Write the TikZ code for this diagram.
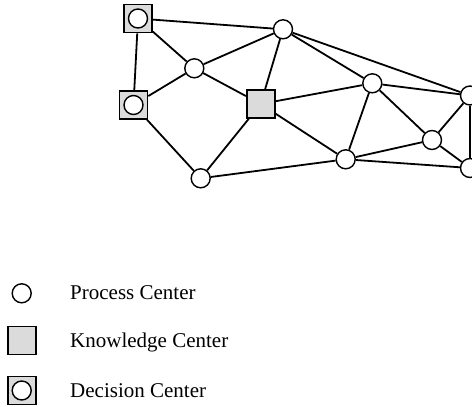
\documentclass[tikz,border=0pt]{standalone}
\usepackage{fontspec}
\setmainfont{Liberation Serif}
\begin{document}
\begin{tikzpicture}[x=1pt,y=-1pt,
  process/.style={circle,draw,line width=1.4pt,fill=white,minimum size=19pt,inner sep=0pt},
  knowledge/.style={rectangle,draw,line width=1.6pt,fill=kgray,minimum size=28pt,inner sep=0pt},
  decision/.style={knowledge,path picture={\draw[line width=1.4pt,fill=white]
      (path picture bounding box.center) circle (9.5pt);}},
  link/.style={line width=1.8pt},
  legendtext/.style={anchor=base west,inner sep=0pt,font=\fontsize{21}{25}\selectfont}]
\definecolor{kgray}{gray}{0.86}
\useasboundingbox (0,0) rectangle (472,407);

% network nodes
\node[decision]  (d1) at (138,18.5) {};
\node[decision]  (d2) at (133.5,105) {};
\node[process]   (p1) at (194.3,68.3) {};
\node[process]   (p2) at (283,29.3) {};
\node[knowledge] (k)  at (260.7,104) {};
\node[process]   (p3) at (200.7,178.3) {};
\node[process]   (p4) at (372.3,83.3) {};
\node[process]   (p5) at (345.7,159.3) {};
\node[process]   (p6) at (432,140) {};
\node[process]   (p7) at (470,95.5) {};
\node[process]   (p8) at (470,168) {};

% links between centres
\foreach \a/\b in {d1/p2,d1/p1,d1/d2,d2/p1,d2/p3,p1/p2,p1/k,p2/k,p2/p4,p2/p7,
                   k/p4,k/p5,k/p3,p3/p5,p4/p5,p4/p7,p4/p6,p5/p6,p5/p8,p6/p7,p6/p8,p7/p8}
  \draw[link] (\a) -- (\b);

% legend
\node[process]   (lp) at (21.7,293.3) {};
\node[knowledge] (lk) at (21.7,340.5) {};
\node[decision]  (ld) at (21.7,390.5) {};
\node[legendtext] (tp) at (70,299.3) {Process Center};
\node[legendtext] (tk) at (70,347.3) {Knowledge Center};
\node[legendtext] (td) at (70,397.7) {Decision Center};
\end{tikzpicture}
\end{document}
